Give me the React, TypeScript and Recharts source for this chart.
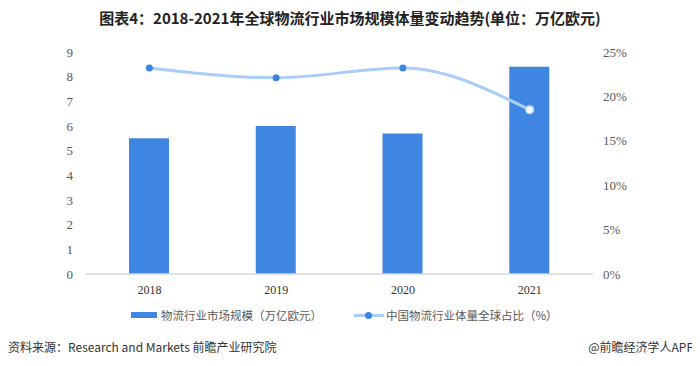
import { Bar, ComposedChart, Line, XAxis, YAxis } from "recharts";

const years = ["2018", "2019", "2020", "2021"];
const marketSize = [5.5, 6.0, 5.7, 8.4];
const chinaShare = [23.2, 22.1, 23.2, 18.5];
const leftTicks = [0, 1, 2, 3, 4, 5, 6, 7, 8, 9];
const rightTicks = [0, 5, 10, 15, 20, 25];

const BAR = "#3f86e2";
const LINE = "#a9cdf7";
const DOT = "#3d85e0";

const data = years.map((y, i) => ({ year: y, size: marketSize[i], share: chinaShare[i] }));

const tickStyle = { fill: "#595959", fontSize: 13, fontFamily: "'Liberation Serif', serif" };

function ShareDot(props: any) {
  const { cx, cy, index } = props;
  if (cx == null || cy == null) return null;
  const last = index === data.length - 1;
  return last ? (
    <circle cx={cx} cy={cy} r={4} fill="#fff" stroke={LINE} strokeWidth={1.5} />
  ) : (
    <circle cx={cx} cy={cy} r={3.5} fill={DOT} stroke="none" />
  );
}

export default function App() {
  return (
    <div style={{ position: "relative", width: 700, height: 366, margin: -8, background: "#fff", fontFamily: "'Noto Sans CJK SC', sans-serif" }}>
      {/* Title */}
      <div
        style={{
          position: "absolute", top: 7, left: 0, width: 700, textAlign: "center",
          fontSize: 15, fontWeight: "bold", color: "#222",
        }}
      >
        图表4：2018-2021年全球物流行业市场规模体量变动趋势(单位：万亿欧元)
      </div>

      <div style={{ position: "absolute", top: 0, left: 0 }}>
        <ComposedChart width={700} height={366} data={data} margin={{ top: 52, right: 47, left: 26, bottom: 62 }}>
          <XAxis
            dataKey="year"
            axisLine={{ stroke: "#d9d9d9", strokeWidth: 1.5 }}
            tickLine={false}
            tickMargin={5}
            height={30}
            tick={{ ...tickStyle, fontSize: 12, fill: "#333" }}
          />
          <YAxis
            yAxisId="left"
            domain={[0, 9]}
            ticks={leftTicks}
            axisLine={false}
            tickLine={false}
            tickMargin={7}
            width={60}
            tick={tickStyle}
          />
          <YAxis
            yAxisId="right"
            orientation="right"
            domain={[0, 25]}
            ticks={rightTicks}
            tickFormatter={(v: number) => `${v}%`}
            axisLine={false}
            tickLine={false}
            tickMargin={4}
            width={60}
            tick={{ ...tickStyle, textAnchor: "start" }}
          />
          <Bar yAxisId="left" dataKey="size" fill={BAR} barSize={40} isAnimationActive={false} />
          <Line
            yAxisId="right"
            type="monotone"
            dataKey="share"
            stroke={LINE}
            strokeWidth={3}
            dot={<ShareDot />}
            activeDot={false}
            isAnimationActive={false}
          />
        </ComposedChart>
      </div>

      {/* Legend */}
      <div style={{ position: "absolute", top: 307, left: 131, display: "flex", alignItems: "center", fontSize: 11.5, color: "#595959" }}>
        <span style={{ display: "inline-block", width: 26, height: 6, background: BAR, marginRight: 4 }} />
        <span>物流行业市场规模（万亿欧元）</span>
        <span style={{ position: "relative", display: "inline-block", width: 30, height: 10, marginLeft: 32, marginRight: 2 }}>
          <span style={{ position: "absolute", left: 0, top: 3.5, width: 30, height: 3, background: LINE }} />
          <span style={{ position: "absolute", left: 11, top: 1.5, width: 7, height: 7, borderRadius: 4, background: DOT }} />
        </span>
        <span>中国物流行业体量全球占比（%）</span>
      </div>

      {/* Source */}
      <div style={{ position: "absolute", top: 338, left: 8, fontSize: 12, color: "#333" }}>
        资料来源：Research and Markets 前瞻产业研究院
      </div>
      <div style={{ position: "absolute", top: 338, right: 6, fontSize: 12, color: "#333" }}>
        @前瞻经济学人APP
      </div>
    </div>
  );
}
